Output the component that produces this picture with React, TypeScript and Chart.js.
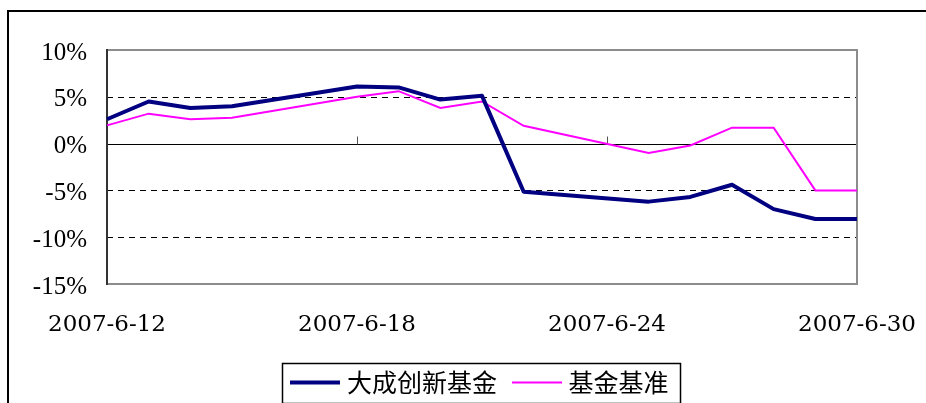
import React, { useEffect, useRef } from 'react';
import { Chart, registerables } from 'chart.js';

Chart.register(...registerables);

const dates = [
  '2007-6-12', '2007-6-13', '2007-6-14', '2007-6-15', '2007-6-16', '2007-6-17',
  '2007-6-18', '2007-6-19', '2007-6-20', '2007-6-21', '2007-6-22', '2007-6-23',
  '2007-6-24', '2007-6-25', '2007-6-26', '2007-6-27', '2007-6-28', '2007-6-29', '2007-6-30',
];
const fundName = '大成创新基金';
const benchName = '基金基准';
const fundValues: (number | null)[] = [
  2.6, 4.5, 3.8, 4.0, null, null, 6.1, 6.0, 4.7, 5.1, -5.15, null, null, -6.2, -5.7, -4.4, -7.0, -8.05, -8.05,
];
const benchValues: (number | null)[] = [
  1.95, 3.2, 2.6, 2.75, null, null, 5.0, 5.6, 3.8, 4.5, 1.9, null, null, -1.0, -0.2, 1.7, 1.7, -5.0, -5.0,
];
const yTicks = [10, 5, 0, -5, -10, -15];
const dashedLevels = [5, -5, -10];
const labelEvery = 6;

function legendLine(color: string, width: number): HTMLCanvasElement {
  const c = document.createElement('canvas');
  c.width = 50;
  c.height = 8;
  const g = c.getContext('2d')!;
  g.fillStyle = color;
  g.fillRect(0, 4 - width / 2, 50, width);
  return c;
}

const framePlugin = {
  id: 'framePlugin',
  beforeDatasetsDraw(chart: any) {
    const { ctx, chartArea: a, scales } = chart;
    const y = scales.y;
    const x = scales.x;
    ctx.save();
    ctx.strokeStyle = '#000';
    ctx.lineWidth = 1;
    ctx.setLineDash([6, 5]);
    dashedLevels.forEach((v) => {
      const py = Math.round(y.getPixelForValue(v)) + 0.5;
      ctx.beginPath();
      ctx.moveTo(a.left, py);
      ctx.lineTo(a.right, py);
      ctx.stroke();
    });
    ctx.setLineDash([]);
    const zy = Math.round(y.getPixelForValue(0)) + 0.5;
    ctx.beginPath();
    ctx.moveTo(a.left, zy);
    ctx.lineTo(a.right, zy);
    ctx.stroke();
    ctx.strokeStyle = '#555';
    dates.forEach((_, i) => {
      if (i % labelEvery === 0) {
        const px = Math.round(x.getPixelForValue(i)) + 0.5;
        ctx.beginPath();
        ctx.moveTo(px, zy - 8);
        ctx.lineTo(px, zy);
        ctx.stroke();
      }
    });
    ctx.strokeStyle = '#8c8c8c';
    ctx.lineWidth = 2;
    ctx.strokeRect(a.left, a.top, a.right - a.left, a.bottom - a.top);
    ctx.strokeStyle = '#333';
    ctx.beginPath();
    ctx.moveTo(a.left, a.top - 1);
    ctx.lineTo(a.left, a.bottom + 1);
    ctx.stroke();
    ctx.restore();
  },
  afterDraw(chart: any) {
    const { ctx } = chart;
    ctx.save();
    ctx.fillStyle = '#000';
    ctx.fillRect(7, 10, 2, chart.height - 10);
    ctx.fillRect(7, 10, chart.width - 7, 2);
    const hb = chart.legend && chart.legend.legendHitBoxes;
    if (hb && hb.length) {
      const first = hb[0];
      const last = hb[hb.length - 1];
      const left = first.left - 13.5;
      const right = last.left + last.width + 11.5;
      const cy = first.top + first.height / 2;
      ctx.strokeStyle = '#000';
      ctx.lineWidth = 1.5;
      ctx.strokeRect(Math.round(left) + 0.5, Math.round(cy - 20) + 0.5, Math.round(right - left), 40);
    }
    ctx.restore();
  },
};

export default function App() {
  const ref = useRef<HTMLCanvasElement | null>(null);
  useEffect(() => {
    if (!ref.current) return;
    const chart = new Chart(ref.current, {
      type: 'line',
      data: {
        labels: dates,
        datasets: [
          {
            label: fundName,
            data: fundValues,
            borderColor: '#000080',
            backgroundColor: '#000080',
            borderWidth: 4,
            pointRadius: 0,
            pointStyle: legendLine('#000080', 4) as any,
            tension: 0,
            spanGaps: true,
            borderJoinStyle: 'round',
          },
          {
            label: benchName,
            data: benchValues,
            borderColor: '#ff00ff',
            backgroundColor: '#ff00ff',
            borderWidth: 2,
            pointRadius: 0,
            pointStyle: legendLine('#ff00ff', 2) as any,
            tension: 0,
            spanGaps: true,
          },
        ],
      },
      options: {
        animation: false,
        responsive: false,
        layout: { padding: { top: 50, right: 69, left: 0, bottom: -2 } },
        plugins: {
          tooltip: { enabled: false },
          legend: {
            position: 'bottom',
            fullSize: false,
            labels: {
              usePointStyle: true,
              pointStyleWidth: 39,
              padding: 20,
              color: '#000',
              font: { family: '"Noto Sans CJK SC", "Noto Sans", sans-serif', size: 25 },
            },
          },
        },
        scales: {
          x: {
            type: 'category',
            offset: false,
            grid: { display: false, drawTicks: false },
            border: { display: false },
            afterFit: (s: any) => {
              s.height = 66;
              s.paddingLeft = 0;
              s.paddingRight = 0;
            },
            ticks: {
              autoSkip: false,
              maxRotation: 0,
              minRotation: 0,
              padding: 27,
              color: '#000',
              font: { family: '"DejaVu Serif", serif', size: 23 },
              callback: (_v: any, i: number) => (i % labelEvery === 0 ? dates[i] : ''),
            },
          },
          y: {
            min: -15,
            max: 10,
            grid: { display: false, drawTicks: false },
            border: { display: false },
            afterFit: (s: any) => {
              s.width = 107;
              s.paddingTop = 0;
              s.paddingBottom = 0;
            },
            afterBuildTicks: (s: any) => { s.ticks = yTicks.map((v) => ({ value: v })); },
            ticks: {
              padding: 20,
              labelOffset: 3,
              color: '#000',
              font: { family: '"Liberation Serif", serif', size: 25 },
              callback: (v: any) => `${v}%`,
            },
          },
        },
      },
      plugins: [framePlugin],
    });
    return () => chart.destroy();
  }, []);
  return (
    <div style={{ position: 'fixed', left: 0, top: 0, width: 926, height: 403, background: '#fff' }}>
      <canvas ref={ref} width={926} height={403} style={{ display: 'block' }} />
    </div>
  );
}
